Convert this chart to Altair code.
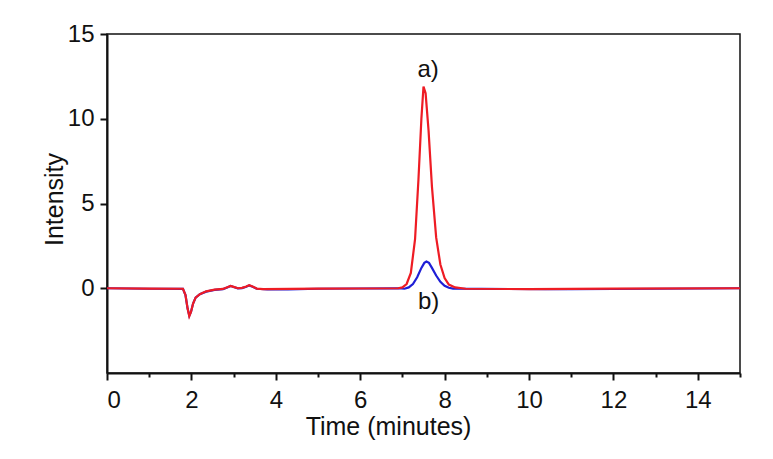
import altair as alt
import pandas as pd

# Red trace (a)
red_t = [0, 1.0, 1.8, 1.86, 1.91, 1.95, 1.99, 2.04, 2.1, 2.2, 2.35, 2.55, 2.75,
         2.85, 2.93, 3.0, 3.1, 3.2, 3.3, 3.37, 3.45, 3.55, 3.7, 5.0, 6.9, 7.0,
         7.1, 7.2, 7.3, 7.38, 7.45, 7.5, 7.55, 7.62, 7.7, 7.8, 7.9, 8.0, 8.1,
         8.25, 8.5, 10.0, 12.0, 15.0]
red_v = [0, -0.02, -0.03, -0.4, -1.2, -1.65, -1.4, -0.9, -0.55, -0.35, -0.18, -0.08, -0.04,
         0.06, 0.14, 0.08, 0.0, 0.02, 0.1, 0.18, 0.1, -0.02, -0.05, -0.02, 0.0, 0.05,
         0.25, 0.9, 2.9, 6.4, 10.0, 11.9, 11.5, 9.3, 6.0, 3.0, 1.4, 0.6, 0.22,
         0.05, -0.03, -0.05, -0.02, 0.0]

# Blue trace (b)
blue_t = [0, 1.0, 1.8, 1.86, 1.91, 1.95, 1.99, 2.04, 2.1, 2.2, 2.35, 2.55, 2.75,
          2.85, 2.93, 3.0, 3.1, 3.2, 3.3, 3.37, 3.45, 3.55, 3.8, 4.3, 5.0, 6.9,
          7.05, 7.15, 7.25, 7.35, 7.45, 7.52, 7.57, 7.63, 7.7, 7.8, 7.9, 8.0,
          8.1, 8.2, 10.4, 11.0, 15.0]
blue_v = [0, -0.03, -0.04, -0.4, -1.2, -1.62, -1.4, -0.9, -0.55, -0.35, -0.2, -0.1, -0.05,
          0.05, 0.13, 0.07, -0.01, 0.01, 0.09, 0.17, 0.09, -0.03, -0.07, -0.07, -0.03, 0.0,
          -0.03, 0.05, 0.25, 0.65, 1.2, 1.5, 1.58, 1.5, 1.2, 0.75, 0.38, 0.15,
          0.03, -0.02, -0.06, -0.06, 0.0]

label_text = ["a)", "b)"]
label_t = [7.61, 7.62]
label_v = [12.88, -0.82]

x_ticks = list(range(0, 16))
y_ticks = [0, 5, 10, 15]

red_df = pd.DataFrame({"t": red_t, "v": red_v})
blue_df = pd.DataFrame({"t": blue_t, "v": blue_v})
lab_df = pd.DataFrame({"text": label_text, "t": label_t, "v": label_v})

FONT = "Liberation Sans"

x_enc = alt.X("t:Q", scale=alt.Scale(domain=[0, 15], nice=False, zero=False),
              axis=alt.Axis(title="Time (minutes)", values=x_ticks,
                            labelExpr="datum.value % 2 === 0 ? datum.label : ''",
                            tickSize=alt.condition("datum.value % 2 === 0", alt.value(7), alt.value(4)),
                            grid=False, labelFontSize=24, titleFontSize=25,
                            labelPadding=8, titlePadding=2, titleX=281,
                            domainColor="#111", domainWidth=2, tickColor="#111", tickWidth=2,
                            labelColor="#111", titleColor="#111",
                            labelFont=FONT, titleFont=FONT, titleFontWeight="normal"))
y_enc = alt.Y("v:Q", scale=alt.Scale(domain=[-5, 15], nice=False, zero=False),
              axis=alt.Axis(title="Intensity", values=y_ticks, grid=False,
                            labelFontSize=24, titleFontSize=25, tickSize=7,
                            labelPadding=6, titlePadding=0, titleY=165,
                            domainColor="#111", domainWidth=2, tickColor="#111", tickWidth=2,
                            labelColor="#111", titleColor="#111",
                            labelFont=FONT, titleFont=FONT, titleFontWeight="normal"))

blue = alt.Chart(blue_df).mark_line(color="#1f1fd6", strokeWidth=2.2).encode(x=x_enc, y=y_enc)
red = alt.Chart(red_df).mark_line(color="#ee1c24", strokeWidth=2.2).encode(x="t:Q", y="v:Q")
labels = alt.Chart(lab_df).mark_text(fontSize=24, font=FONT, color="#111",
                                     baseline="middle", align="center").encode(
    x="t:Q", y="v:Q", text="text:N")

chart = alt.layer(blue, red, labels).properties(
    width=633, height=339,
    autosize=alt.AutoSizeParams(type="none"),
    padding={"left": 107, "top": 34, "right": 33, "bottom": 86},
    background="white",
).configure_view(stroke="#111", strokeWidth=1.5)

chart.save("out.html", embed_options={"renderer": "svg", "actions": False})
